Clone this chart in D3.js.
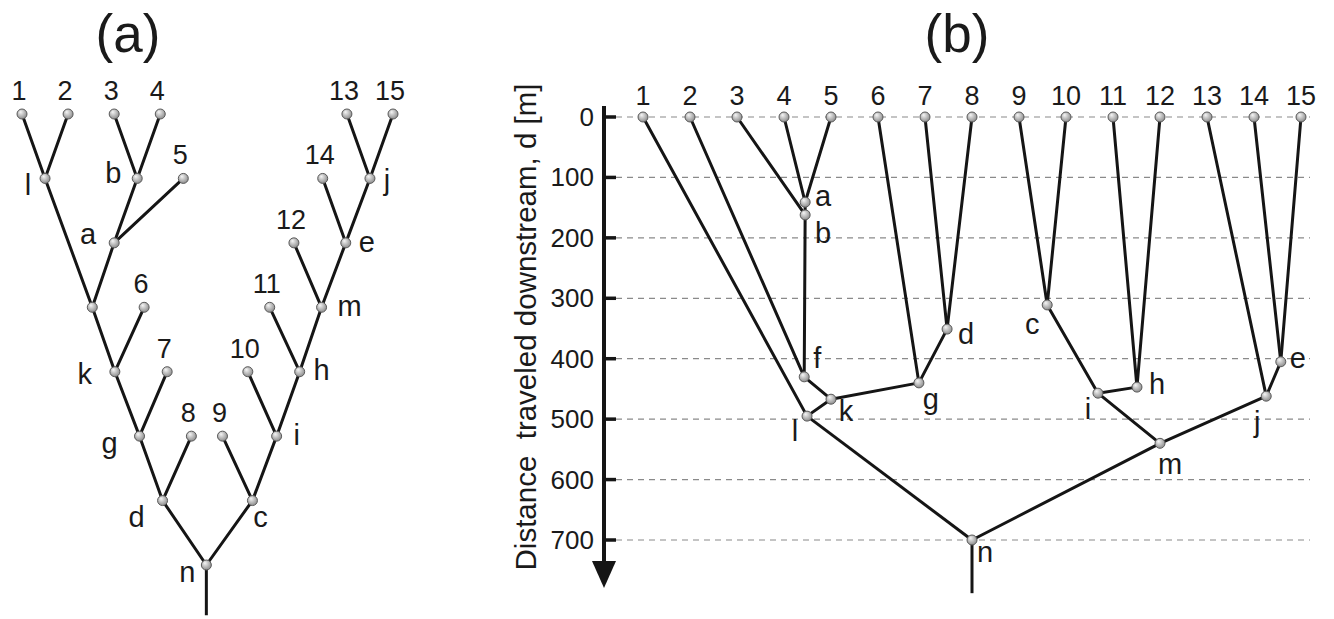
<!DOCTYPE html>
<html>
<head>
<meta charset="utf-8">
<script src="https://cdn.jsdelivr.net/npm/d3@7"></script>
<style>
  html, body { margin: 0; padding: 0; background: #fff; }
  svg { display: block; }
  text { font-family: Arial, "Liberation Sans", sans-serif; fill: #1a1a1a; }
</style>
</head>
<body>
<svg id="fig" width="1334" height="619"></svg>
<script>
// ---------- Panel (a): topological tree ----------
// node name, horizontal layout position, level (0 = sources)
const nodesA_names  = ["1","2","3","4","l","b","5","a","u","6","k","7","g","8","d","n",
                       "9","c","i","10","h","11","m","12","e","14","j","13","15"];
const nodesA_pos    = [0, 2, 4, 6, 1, 5, 7, 4, 3.05, 5.3, 4.03, 6.3, 5.1, 7.35, 6.1, 8,
                       8.7, 10, 11.05, 9.8, 12.05, 10.75, 13, 11.8, 14.05, 13.05, 15.1, 14.1, 16.1];
const nodesA_level  = [0, 0, 0, 0, 1, 1, 1, 2, 3, 3, 4, 4, 5, 5, 6, 7,
                       5, 6, 5, 4, 4, 3, 3, 2, 2, 1, 1, 0, 0];
const edgesA = [["1","l"],["2","l"],["3","b"],["4","b"],["b","a"],["5","a"],["l","u"],["a","u"],
                ["u","k"],["6","k"],["k","g"],["7","g"],["g","d"],["8","d"],["d","n"],["c","n"],
                ["9","c"],["i","c"],["10","i"],["h","i"],["11","h"],["m","h"],["12","m"],["e","m"],
                ["14","e"],["j","e"],["13","j"],["15","j"]];
const outletLevelA = 7.78;
// junction letters in (a) and their label offsets [dx, dy]
const labelsA = { l:[-17,9], b:[-24,-3], a:[-26,-7], k:[-30,5], g:[-30,9], d:[-26,19], n:[-19,9],
                  c:[8,19], i:[20,1], h:[22,1], m:[28,1], e:[21,1], j:[17,4] };

// ---------- Panel (b): distance travelled downstream ----------
const leavesB = ["1","2","3","4","5","6","7","8","9","10","11","12","13","14","15"];
const junctionsB      = ["a","b","f","k","l","g","d","n","c","i","h","m","j","e"];
const junctionsB_col  = [4.45, 4.45, 4.43, 5.0, 4.49, 6.87, 7.47, 8.0, 9.6, 10.68, 11.51, 12.0, 14.26, 14.57];
const junctionsB_dist = [141, 162, 430, 467, 495, 440, 351, 700, 311, 457, 447, 540, 462, 405];
const edgesB = [["4","a"],["5","a"],["a","b"],["3","b"],["b","f"],["2","f"],["f","k"],["g","k"],
                ["k","l"],["1","l"],["6","g"],["d","g"],["7","d"],["8","d"],["l","n"],["m","n"],
                ["9","c"],["10","c"],["c","i"],["h","i"],["11","h"],["12","h"],["i","m"],["j","m"],
                ["13","j"],["e","j"],["14","e"],["15","e"]];
const outletDistB = 788;
const distTicks = [0, 100, 200, 300, 400, 500, 600, 700];
const axisTitleB = "Distance  traveled downstream, d [m]";
const labelsB = { a:[18,-4], b:[18,20], f:[13,-16], k:[15,14], l:[-12,17], g:[12,18], d:[19,7],
                  n:[13,14], c:[-15,21], i:[-10,18], h:[20,-1], m:[10,23], j:[-9,28], e:[17,-1] };

const svg = d3.select("#fig");
const INK = "#151515";
const LINE_W = 3;

// node shading
const grad = svg.append("defs").append("radialGradient")
  .attr("id", "ball").attr("cx", "45%").attr("cy", "40%").attr("r", "60%")
  .attr("fx", "35%").attr("fy", "30%");
grad.append("stop").attr("offset", "0%").attr("stop-color", "#f6f6f6");
grad.append("stop").attr("offset", "100%").attr("stop-color", "#8c8c8c");

function drawBall(g, x, y) {
  g.append("circle").attr("cx", x).attr("cy", y).attr("r", 5)
    .attr("fill", "url(#ball)").attr("stroke", "#5a5a5a").attr("stroke-width", 1);
}

// ===== Panel (a) =====
const xA = d3.scaleLinear().domain([0, 16.1]).range([22, 393]);
const yA = d3.scaleLinear().domain([0, 7]).range([114, 565]);
const nodeA = new Map(nodesA_names.map((n, i) => [n, { x: xA(nodesA_pos[i]), y: yA(nodesA_level[i]) }]));
const gA = svg.append("g");

svg.append("text").attr("x", 128).attr("y", 52).attr("text-anchor", "middle")
  .attr("font-size", 53).text("(a)");

gA.selectAll("line.edge").data(edgesA).join("line").attr("class", "edge")
  .attr("x1", d => nodeA.get(d[0]).x).attr("y1", d => nodeA.get(d[0]).y)
  .attr("x2", d => nodeA.get(d[1]).x).attr("y2", d => nodeA.get(d[1]).y)
  .attr("stroke", INK).attr("stroke-width", LINE_W).attr("stroke-linecap", "round");
gA.append("line")
  .attr("x1", nodeA.get("n").x).attr("y1", nodeA.get("n").y)
  .attr("x2", nodeA.get("n").x).attr("y2", yA(outletLevelA))
  .attr("stroke", INK).attr("stroke-width", LINE_W);

nodesA_names.forEach(n => { const p = nodeA.get(n); drawBall(gA, p.x, p.y); });

// source numbers above the sources
nodesA_names.filter(n => /^\d+$/.test(n)).forEach(n => {
  const p = nodeA.get(n);
  gA.append("text").attr("x", p.x - 3).attr("y", p.y - 14).attr("text-anchor", "middle")
    .attr("font-size", 27).text(n);
});
Object.entries(labelsA).forEach(([n, o]) => {
  const p = nodeA.get(n);
  gA.append("text").attr("x", p.x + o[0]).attr("y", p.y + o[1]).attr("text-anchor", "middle")
    .attr("dominant-baseline", "middle").attr("font-size", 29).text(n);
});

// ===== Panel (b) =====
const xB = d3.scaleLinear().domain([1, 15]).range([643, 1301]);
const yB = d3.scaleLinear().domain([0, 700]).range([117, 540]);
const nodeB = new Map();
leavesB.forEach((n, i) => nodeB.set(n, { x: xB(i + 1), y: yB(0) }));
junctionsB.forEach((n, i) => nodeB.set(n, { x: xB(junctionsB_col[i]), y: yB(junctionsB_dist[i]) }));
const gB = svg.append("g");

svg.append("text").attr("x", 957).attr("y", 52).attr("text-anchor", "middle")
  .attr("font-size", 53).text("(b)");

// dashed reference lines
gB.selectAll("line.grid").data(distTicks).join("line").attr("class", "grid")
  .attr("x1", 616).attr("x2", 1310).attr("y1", d => yB(d)).attr("y2", d => yB(d))
  .attr("stroke", "#8a8a8a").attr("stroke-width", 1.2).attr("stroke-dasharray", "6,5");

// distance axis with arrow
const axisX = 604;
gB.append("line").attr("x1", axisX).attr("x2", axisX).attr("y1", 106).attr("y2", 566)
  .attr("stroke", INK).attr("stroke-width", 4);
gB.append("path")
  .attr("d", `M${axisX - 12},${561} L${axisX + 12},${561} L${axisX},${588} Z`)
  .attr("fill", INK);
gB.selectAll("line.tick").data(distTicks).join("line").attr("class", "tick")
  .attr("x1", axisX).attr("x2", axisX + 12).attr("y1", d => yB(d)).attr("y2", d => yB(d))
  .attr("stroke", INK).attr("stroke-width", 3.5);
gB.selectAll("text.tick").data(distTicks).join("text").attr("class", "tick")
  .attr("x", 594).attr("y", d => yB(d) + 9).attr("text-anchor", "end")
  .attr("font-size", 26).text(d => d);

gB.append("text")
  .attr("transform", `translate(536,327) rotate(-90)`)
  .attr("text-anchor", "middle").attr("font-size", 29.5)
  .attr("xml:space", "preserve").style("white-space", "pre")
  .text(axisTitleB);

// channel segments
gB.selectAll("line.edge").data(edgesB).join("line").attr("class", "edge")
  .attr("x1", d => nodeB.get(d[0]).x).attr("y1", d => nodeB.get(d[0]).y)
  .attr("x2", d => nodeB.get(d[1]).x).attr("y2", d => nodeB.get(d[1]).y)
  .attr("stroke", INK).attr("stroke-width", LINE_W).attr("stroke-linecap", "round");
gB.append("line")
  .attr("x1", nodeB.get("n").x).attr("y1", nodeB.get("n").y)
  .attr("x2", nodeB.get("n").x).attr("y2", yB(outletDistB))
  .attr("stroke", INK).attr("stroke-width", LINE_W);

leavesB.concat(junctionsB).forEach(n => { const p = nodeB.get(n); drawBall(gB, p.x, p.y); });

leavesB.forEach(n => {
  const p = nodeB.get(n);
  gB.append("text").attr("x", p.x).attr("y", p.y - 12).attr("text-anchor", "middle")
    .attr("font-size", 27).text(n);
});
Object.entries(labelsB).forEach(([n, o]) => {
  const p = nodeB.get(n);
  gB.append("text").attr("x", p.x + o[0]).attr("y", p.y + o[1]).attr("text-anchor", "middle")
    .attr("dominant-baseline", "middle").attr("font-size", 29).text(n);
});
</script>
</body>
</html>
